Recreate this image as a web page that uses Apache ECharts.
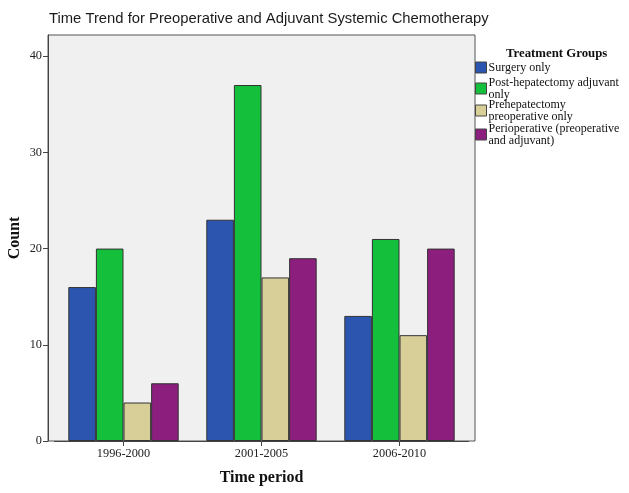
<!DOCTYPE html>
<html>
<head>
<meta charset="utf-8">
<script src="https://cdn.jsdelivr.net/npm/echarts@6/dist/echarts.min.js"></script>
<style>html,body{margin:0;padding:0;background:#fff}#c{width:629px;height:493px}</style>
</head>
<body>
<div id="c"></div>
<script>
const categories = ['1996-2000', '2001-2005', '2006-2010'];
const seriesNames = ['Surgery only', 'Post-hepatectomy adjuvant\nonly', 'Prehepatectomy\npreoperative only', 'Perioperative (preoperative\nand adjuvant)'];
const surgeryOnly = [16, 23, 13];
const adjuvantOnly = [20, 37, 21];
const preoperativeOnly = [4, 17, 11];
const perioperative = [6, 19, 20];
const yTicks = [0, 10, 20, 30, 40];
const colors = ['#2c55b0', '#14bf3c', '#d8cf98', '#8c1f7e'];

const values = [surgeryOnly, adjuvantOnly, preoperativeOnly, perioperative];
const serif = '"Liberation Serif", "DejaVu Serif", serif';
const legendTops = [61.5, 76.5, 98.5, 122.5];

const chart = echarts.init(document.getElementById('c'), null, {renderer: 'canvas'});
chart.setOption({
  animation: false,
  backgroundColor: '#fff',
  title: [
    {text: 'Time Trend for Preoperative and Adjuvant Systemic Chemotherapy', left: 44, top: 6,
     textStyle: {fontFamily: '"Liberation Sans", Arial, sans-serif', fontSize: 14.8, fontWeight: 'normal', color: '#1a1a1a'}},
    {text: 'Treatment Groups', left: 501, top: 42,
     textStyle: {fontFamily: serif, fontSize: 12.8, fontWeight: 'bold', color: '#111'}}
  ],
  legend: seriesNames.map((n, i) => ({
    data: [n], left: 475, top: legendTops[i], padding: 0, orient: 'vertical',
    icon: 'rect', itemWidth: 11, itemHeight: 11, itemGap: 0, selectedMode: false,
    itemStyle: {borderColor: '#444', borderWidth: 1},
    textStyle: {fontFamily: serif, fontSize: 12, lineHeight: 12, color: '#111', padding: [0,0,0,-3]}
  })),
  grid: [
    {left: 48, top: 35, width: 427, height: 406, show: true, backgroundColor: '#f0f0f0', borderColor: '#555', borderWidth: 1, outerBoundsMode: 'none'},
    {left: 54.5, top: 35, width: 414, height: 406, outerBoundsMode: 'none'}
  ],
  xAxis: [
    {gridIndex: 0, type: 'value', show: false, min: 0, max: 1},
    {gridIndex: 1, type: 'category', data: categories,
     name: 'Time period', nameLocation: 'middle', nameGap: 29,
     nameTextStyle: {fontFamily: serif, fontSize: 16, fontWeight: 'bold', color: '#111'},
     axisLine: {show: true, lineStyle: {color: '#444', width: 1}},
     axisTick: {show: true, alignWithLabel: true, length: 5, lineStyle: {color: '#444'}},
     axisLabel: {fontFamily: serif, fontSize: 12.3, color: '#222', margin: 7}}
  ],
  yAxis: [
    {gridIndex: 0, type: 'value', show: false, min: 0, max: 1},
    {gridIndex: 1, type: 'value', min: 0, max: 42.2, interval: 10, offset: 6.5,
     name: 'Count', nameLocation: 'middle', nameGap: 25, nameMoveOverlap: false,
     nameTextStyle: {fontFamily: serif, fontSize: 16, fontWeight: 'bold', color: '#111'},
     axisLine: {show: true, lineStyle: {color: '#444', width: 1}},
     axisTick: {show: true, length: 5, lineStyle: {color: '#444'}},
     splitLine: {show: false},
     axisLabel: {fontFamily: serif, fontSize: 12.3, color: '#222', margin: 6,
       showMaxLabel: false,
       formatter: v => yTicks.includes(v) ? String(v) : ''}}
  ],
  series: seriesNames.map((n, i) => ({
    name: n, type: 'bar', xAxisIndex: 1, yAxisIndex: 1,
    data: values[i], barGap: '0%', barCategoryGap: '20%',
    itemStyle: {color: colors[i], borderColor: '#333', borderWidth: 1}
  }))
});
</script>
</body>
</html>
